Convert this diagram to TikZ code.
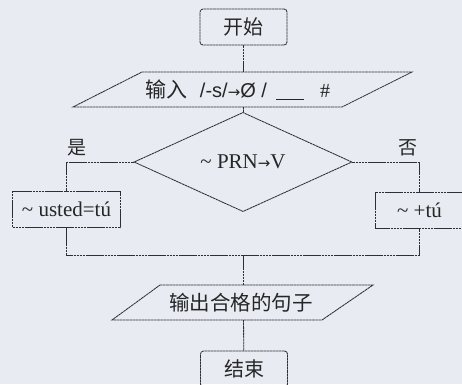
\documentclass[tikz,border=0pt]{standalone}
\usepackage{fontspec}
\setmainfont{Liberation Serif}
\setsansfont{Liberation Sans}
\newfontfamily\cjk{Noto Sans CJK SC}
\newfontfamily\arrowfont{DejaVu Sans}
\usetikzlibrary{shapes.geometric}
\usetikzlibrary{positioning}

\definecolor{paper}{RGB}{232,235,241}
\definecolor{ink}{RGB}{50,44,58}

\tikzset{
	line/.style = {draw=ink, line width=0.85pt, dash pattern=on 2.6pt off 0.5pt},
	term/.style = {line, rounded corners=3pt, minimum width=87pt, minimum height=36pt, inner sep=0pt, font=\cjk\fontsize{20}{20}\selectfont},
	proc/.style = {line, minimum height=36pt, inner sep=0pt, font=\fontsize{21}{21}\selectfont},
	cond/.style = {line, diamond, minimum width=218pt, minimum height=64pt, inner sep=0pt, font=\fontsize{21}{21}\selectfont},
	cjklabel/.style = {font=\cjk\fontsize{19}{19}\selectfont},
}
\newcommand{\arr}{{\arrowfont\fontsize{15}{15}\selectfont →}}

\begin{document}
\begin{tikzpicture}[x=1pt, y=-1pt, text=black!85]
	\clip (0,0) rectangle (462,384);
	\fill[paper] (0,0) rectangle (462,384);

	% start
	\node[term] (S) at (243.5,27) {开始};

	% input
	\coordinate (I1) at (142,72);
	\coordinate (I2) at (412,72);
	\coordinate (I3) at (342,107);
	\coordinate (I4) at (73,107);
	\coordinate (It) at (243.5,72);
	\coordinate (Ib) at (243.5,107);
	\draw[line] (I1) -- (I2) -- (I3) -- (I4) -- cycle;
	\node[font=\fontsize{20}{20}\selectfont] (In) at (238,90) {{\cjk\fontsize{21}{21}\selectfont 输入}\hspace{12pt}%
		{\sffamily\fontsize{20}{20}\selectfont /-s/\arr Ø /}\hspace{9pt}%
		\underline{\hspace{28pt}}\hspace{16pt}\#};

	% test
	\node[cond] (D) at (243,162) {\textasciitilde\ PRN\arr V};
	\node[cjklabel] (Y) at (77,148) {是};
	\node[cjklabel] (N) at (408,148) {否};

	% branches
	\node[proc, minimum width=108pt] (L) at (66.5,209.5) {\textasciitilde\ usted=tú};
	\node[proc, minimum width=89pt] (R) at (419.5,210) {\textasciitilde\ +tú};
	\coordinate (M) at (243.5,255);

	% output
	\coordinate (O1) at (160,285);
	\coordinate (O2) at (373,285);
	\coordinate (O3) at (322,320);
	\coordinate (O4) at (112,320);
	\coordinate (Ot) at (243.5,285);
	\coordinate (Ob) at (243.5,320);
	\draw[line] (O1) -- (O2) -- (O3) -- (O4) -- cycle;
	\node[font=\cjk\fontsize{20.5}{20.5}\selectfont] (Out) at (241,302.5) {输出合格的句子};

	% end
	\node[term] (E) at (244,369) {结束};

	\draw[line] (S) -- (It);
	\draw[line] (Ib) -- (D);
	\draw[line] (D.west) -| (L);
	\draw[line] (D.east) -| (R);
	\draw[line] (L) |- (M) -| (R);
	\draw[line] (M) -- (Ot);
	\draw[line] (Ob) -- (E);
\end{tikzpicture}
\end{document}
